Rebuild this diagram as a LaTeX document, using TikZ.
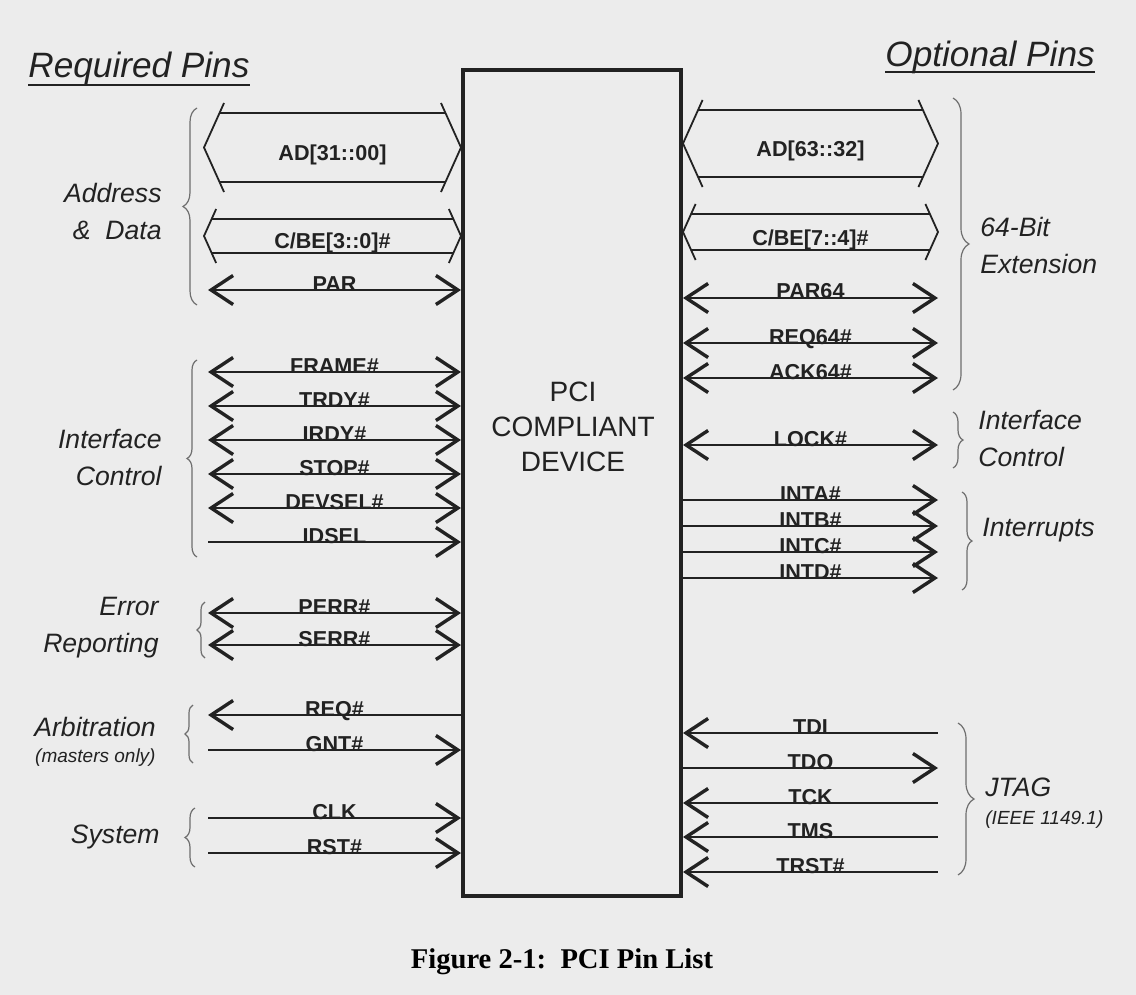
\documentclass[tikz,border=0pt]{standalone}
\usepackage{fontspec}
\setmainfont{Liberation Sans}
\newfontfamily\capfont{Liberation Serif}
\usepackage{tikz}
\usetikzlibrary{positioning, arrows.meta, decorations.pathreplacing}
\definecolor{paper}{HTML}{ECECEC}
\definecolor{ink}{HTML}{222222}
\definecolor{bracecol}{HTML}{6E6E6E}

\begin{document}
\begin{tikzpicture}[
  x=0.5pt, y=-0.5pt,
  >={Straight Barb[length=11pt,width=14.5pt,line width=1.7pt]},
  device/.style={draw=ink, line width=2pt, minimum width=109pt, minimum height=413pt, inner sep=0},
  devtxt/.style={text=ink, align=center, inner sep=0, font=\fontsize{14}{17.5}\selectfont},
  sig/.style={draw=ink, line width=0.7pt},
  tipboth/.style={<->}, tipend/.style={->}, tipstart/.style={<-},
  pinlbl/.style={anchor=base, yshift=-0.5pt, inner sep=0, text=ink, font=\bfseries\fontsize{10.8}{12}\selectfont},
  buslbl/.style={anchor=base, yshift=-6.5pt, inner sep=0, text=ink, font=\bfseries\fontsize{10.8}{12}\selectfont},
  busedge/.style={draw=ink, line width=1.3pt},
  buschev/.style={draw=ink, line width=0.9pt},
  grp/.style={text=ink, inner sep=0, font=\itshape\fontsize{13.3}{18.5}\selectfont},
  grpsmall/.style={text=ink, inner sep=0, font=\itshape\fontsize{9.5}{12}\selectfont},
  head/.style={text=ink, inner sep=0, font=\itshape\fontsize{17.6}{21}\selectfont},
  brc/.style={draw=bracecol, line width=0.6pt, decorate, decoration={brace, amplitude=#1}}
]
\fill[paper] (0,0) rectangle (1136,995);
\useasboundingbox (0,0) rectangle (1136,995);

\node[device] (dev) at (572,483) {};
\node[devtxt] (devname) at (573,427) {PCI\\COMPLIANT\\DEVICE};

\node[head, anchor=base west] (reqh) at (28,78) {Required Pins};
\draw[ink, line width=1pt] ([yshift=-3.5pt]reqh.base west) -- ([yshift=-3.5pt]reqh.base east);
\node[head, anchor=base west] (opth) at (885,67) {Optional Pins};
\draw[ink, line width=1pt] ([yshift=-2.5pt]opth.base west) -- ([yshift=-2.5pt]opth.base east);

\foreach \n/\xl/\xr/\yc/\hh/\t in {
  ad/204/461/147.5/34.5/{AD[31::00]},
  cbe/204/461/236/17/{C/BE[3::0]\#},
  adhi/683/938/143.5/33.5/{AD[63::32]},
  cbehi/683/938/232/18/{C/BE[7::4]\#}} {
  \pgfmathsetmacro\ho{\hh+10}
  \pgfmathsetmacro\dl{0.45*\ho}
  \pgfmathsetmacro\dh{0.45*\hh}
  \draw[buschev] (\xl+\dl,\yc-\ho) -- (\xl,\yc) -- (\xl+\dl,\yc+\ho);
  \draw[buschev] (\xr-\dl,\yc-\ho) -- (\xr,\yc) -- (\xr-\dl,\yc+\ho);
  \draw[busedge] (\xl+\dh,\yc-\hh) -- (\xr-\dh,\yc-\hh);
  \draw[busedge] (\xl+\dh,\yc+\hh) -- (\xr-\dh,\yc+\hh);
  \node[buslbl] (l\n) at ({(\xl+\xr)/2},\yc) {\t};
}

\foreach \n/\y/\s/\t in {par/290/tipboth/PAR, frame/372/tipboth/FRAME\#,
  trdy/406/tipboth/TRDY\#, irdy/440/tipboth/IRDY\#, stop/474/tipboth/STOP\#,
  devsel/508/tipboth/DEVSEL\#, idsel/542/tipend/IDSEL, perr/613/tipboth/PERR\#,
  serr/645/tipboth/SERR\#, req/715/tipstart/REQ\#, gnt/750/tipend/GNT\#,
  clk/818/tipend/CLK, rst/853/tipend/RST\#} {
  \coordinate (\n) at (208,\y);
  \draw[sig,\s] (\n) -- (\n -| dev.west) node[pinlbl, midway] (l\n) {\t};
}

\foreach \n/\y/\s/\t in {par64/298/tipboth/PAR64, req64/343/tipboth/REQ64\#,
  ack64/378/tipboth/ACK64\#, lock/445/tipboth/LOCK\#, inta/500/tipend/INTA\#,
  intb/526/tipend/INTB\#, intc/552/tipend/INTC\#, intd/578/tipend/INTD\#,
  tdi/733/tipstart/TDI, tdo/768/tipend/TDO, tck/803/tipstart/TCK,
  tms/837/tipstart/TMS, trst/872/tipstart/TRST\#} {
  \coordinate (\n) at (938,\y);
  \draw[sig,\s] (\n -| dev.east) -- (\n) node[pinlbl, midway] (l\n) {\t};
}

\draw[brc=7pt] (197,305) -- (197,108);
\draw[brc=5pt] (197,557) -- (197,360);
\draw[brc=4pt] (205,658) -- (205,602);
\draw[brc=4pt] (193,763) -- (193,705);
\draw[brc=5pt] (195,867) -- (195,808);
\draw[brc=8pt] (953,98) -- (953,390);
\draw[brc=5pt] (953,412) -- (953,468);
\draw[brc=5pt] (962,492) -- (962,590);
\draw[brc=8pt] (958,723) -- (958,875);

\node[grp, anchor=east, align=right] (gaddr) at (162,211) {Address\\\& \ Data};
\node[grp, anchor=east, align=right] (gifc) at (162,457) {Interface\\Control};
\node[grp, anchor=east, align=right] (gerr) at (159,628) {Error\\Reporting};
\node[grp, anchor=east] (garb) at (156,727) {Arbitration};
\node[grpsmall, anchor=east] (gmast) at (156,758) {(masters only)};
\node[grp, anchor=east] (gsys) at (160,837) {System};
\node[grp, anchor=west, align=left] (gext) at (980,245) {64-Bit\\Extension};
\node[grp, anchor=west, align=left] (gifc2) at (978,438) {Interface\\Control};
\node[grp, anchor=west] (gint) at (982,530) {Interrupts};
\node[grp, anchor=west] (gjtag) at (985,787) {JTAG};
\node[grpsmall, anchor=west] (gieee) at (985,820) {(IEEE 1149.1)};

\node[anchor=base, text=black, font=\capfont\bfseries\fontsize{14.3}{17}\selectfont] (caption) at (562,968) {Figure 2-1:\ \ PCI Pin List};
\end{tikzpicture}
\end{document}
